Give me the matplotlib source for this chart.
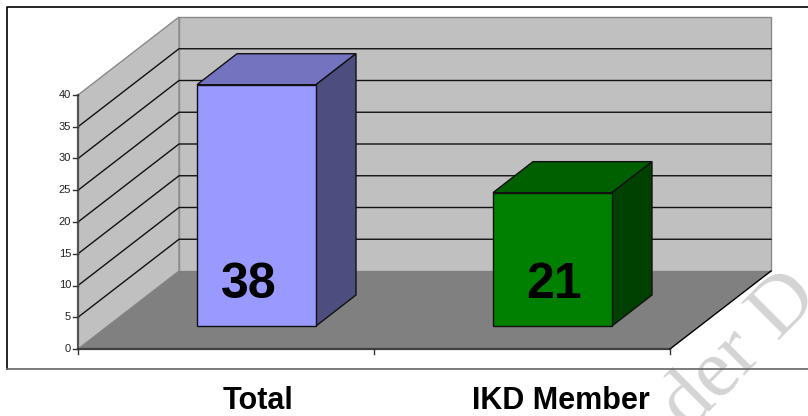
import matplotlib
matplotlib.use('Agg')
import matplotlib.pyplot as plt
from matplotlib.patches import Polygon

categories = ['Total', 'IKD Member']
values = [38, 21]
y_ticks = [0, 5, 10, 15, 20, 25, 30, 35, 40]
watermark = 'der D'

plt.rcParams['font.family'] = ['Liberation Sans', 'DejaVu Sans']

# pixel layout of the old 3D chart
left_px, base_px = 78, 349
cat_px, unit_px = 296, 6.35
depth_x, depth_y = 101, 78
bar_dx, bar_dy = 40, 31
y_max = 40

fig = plt.figure(figsize=(8.08, 4.16), dpi=100)
ax = fig.add_axes([0, 0, 1, 1])
# x is in categories, y is in chart values
ax.set_xlim(-left_px / cat_px, (808 - left_px) / cat_px)
ax.set_ylim((base_px - 416) / unit_px, base_px / unit_px)
ax.axis('off')


def px_x(px):
    return px / cat_px


def px_y(px):
    return px / unit_px


def poly(points, face, edge='none', lw=0.0, z=1):
    ax.add_patch(Polygon(points, closed=True, facecolor=face, edgecolor=edge,
                         linewidth=lw, joinstyle='miter', zorder=z))


n = len(categories)
dx, dy = px_x(depth_x), px_y(depth_y)

# watermark, cut by the image edge
ax.text(px_x(688 - left_px), px_y(base_px - 432), watermark, rotation=45, rotation_mode='anchor',
        ha='left', va='baseline', fontsize=60, family=['Liberation Serif'], color='#d4d4d4', zorder=0.5)

# outer frame
fx0, fx1 = px_x(7 - left_px), px_x(808 - left_px)
fy_top, fy_bot = px_y(base_px - 7), px_y(base_px - 369)
ax.plot([fx1, fx0, fx0], [fy_top, fy_top, fy_bot], color='black', lw=1.2, zorder=1)
ax.plot([fx0, fx1], [fy_bot, fy_bot], color='#666666', lw=1.2, zorder=1)

# walls and floor
wall_edge = '#8a8a8a'
poly([(dx, dy), (n + dx, dy), (n + dx, dy + y_max), (dx, dy + y_max)], '#c0c0c0', wall_edge, 1.0, 2)
poly([(0, 0), (dx, dy), (dx, dy + y_max), (0, y_max)], '#c0c0c0', wall_edge, 1.0, 2)
poly([(0, 0), (n, 0), (n + dx, dy), (dx, dy)], '#808080', 'none', 0, 2)

# gridlines
for t in y_ticks[1:-1]:
    ax.plot([0, dx, n + dx], [t, t + dy, t + dy], color='#111111', lw=1.0, zorder=3)

# axes lines
ax.plot([0, 0], [0, y_max], color='#555555', lw=1.6, zorder=4)
ax.plot([0, n], [0, 0], color='#404040', lw=1.6, zorder=4)
ax.plot([n, n + dx], [0, dy], color='black', lw=1.0, zorder=4)

for t in y_ticks:
    ax.plot([px_x(-5), 0], [t, t], color='#333333', lw=1.0, zorder=4)
    ax.text(px_x(-7), t, str(t), ha='right', va='center', fontsize=8, color='#222222')
for c in range(n + 1):
    ax.plot([c, c], [0, px_y(-5)], color='#333333', lw=1.0, zorder=4)

# bars
bar_faces = ['#9999ff', '#008000']
bar_tops = ['#7373bf', '#006000']
bar_sides = ['#4d4d80', '#004000']
bar_w = px_x(119)
bar_off = px_x(119)
front_y = px_y(23)
bx, by = px_x(bar_dx), px_y(bar_dy)
value_x_px = [249, 554]
label_x_px = [258, 561]

for i, val in enumerate(values):
    x0 = i + bar_off
    x1 = x0 + bar_w
    y0 = front_y
    y1 = front_y + val
    edge = '#111111'
    poly([(x0, y0), (x1, y0), (x1, y1), (x0, y1)], bar_faces[i], edge, 1.0, 6)
    poly([(x0, y1), (x1, y1), (x1 + bx, y1 + by), (x0 + bx, y1 + by)], bar_tops[i], edge, 1.0, 5)
    poly([(x1, y0), (x1 + bx, y0 + by), (x1 + bx, y1 + by), (x1, y1)], bar_sides[i], edge, 1.0, 5)
    ax.text(px_x(value_x_px[i] - left_px), px_y(base_px - 285), str(val), ha='center', va='center',
            fontsize=36, fontweight='bold', color='black', zorder=7)
    ax.text(px_x(label_x_px[i] - left_px), px_y(base_px - 401), categories[i], ha='center', va='center',
            fontsize=22, fontweight='bold', color='black', zorder=7)

fig.savefig('out.png', dpi=100)
